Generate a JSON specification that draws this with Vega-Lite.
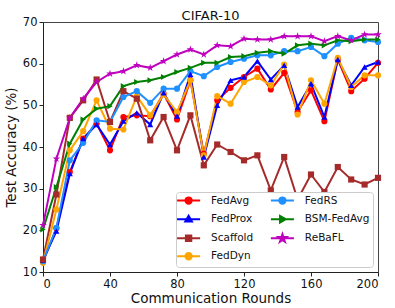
{
  "$schema": "https://vega.github.io/schema/vega-lite/v6.json",
  "width": 335,
  "height": 250,
  "autosize": "none",
  "padding": {"left": 43, "top": 22, "right": 17, "bottom": 36},
  "background": "white",
  "config": {
    "font": "DejaVu Sans",
    "view": {"stroke": "#444", "strokeWidth": 1},
    "axis": {"grid": false, "domainColor": "#222", "tickColor": "#222", "labelColor": "#111", "titleColor": "#111", "labelFontSize": 11.5, "titleFontSize": 13.5, "titleFontWeight": "normal", "tickSize": 4, "labelPadding": 2}
  },
  "title": {"text": "CIFAR-10", "fontSize": 13, "fontWeight": "normal", "color": "#111", "offset": -7},
  "data": {
    "values": [
      {"r": 0, "FedAvg": 12.4, "FedProx": 12.8, "Scaffold": 13.0, "FedDyn": 12.2, "FedRS": 12.6, "BSM-FedAvg": 20.2, "ReBaFL": 21.2},
      {"r": 8, "FedAvg": 20.5, "FedProx": 19.8, "Scaffold": 28.6, "FedDyn": 25.0, "FedRS": 20.6, "BSM-FedAvg": 30.4, "ReBaFL": 37.2},
      {"r": 16, "FedAvg": 34.0, "FedProx": 33.6, "Scaffold": 47.0, "FedDyn": 39.2, "FedRS": 36.8, "BSM-FedAvg": 40.8, "ReBaFL": 47.0},
      {"r": 24, "FedAvg": 42.0, "FedProx": 42.0, "Scaffold": 51.2, "FedDyn": 43.8, "FedRS": 41.0, "BSM-FedAvg": 46.6, "ReBaFL": 51.6},
      {"r": 32, "FedAvg": 45.6, "FedProx": 45.4, "Scaffold": 56.2, "FedDyn": 51.2, "FedRS": 46.4, "BSM-FedAvg": 49.2, "ReBaFL": 55.6},
      {"r": 40, "FedAvg": 39.2, "FedProx": 40.6, "Scaffold": 46.0, "FedDyn": 44.4, "FedRS": 46.0, "BSM-FedAvg": 49.8, "ReBaFL": 57.6},
      {"r": 48, "FedAvg": 47.2, "FedProx": 46.2, "Scaffold": 53.4, "FedDyn": 44.2, "FedRS": 52.0, "BSM-FedAvg": 54.6, "ReBaFL": 58.2},
      {"r": 56, "FedAvg": 47.6, "FedProx": 48.2, "Scaffold": 51.6, "FedDyn": 52.2, "FedRS": 53.4, "BSM-FedAvg": 55.6, "ReBaFL": 59.6},
      {"r": 64, "FedAvg": 47.4, "FedProx": 45.4, "Scaffold": 41.6, "FedDyn": 47.6, "FedRS": 50.6, "BSM-FedAvg": 56.0, "ReBaFL": 59.0},
      {"r": 72, "FedAvg": 52.8, "FedProx": 53.0, "Scaffold": 47.2, "FedDyn": 52.6, "FedRS": 54.0, "BSM-FedAvg": 56.8, "ReBaFL": 60.6},
      {"r": 80, "FedAvg": 46.6, "FedProx": 47.4, "Scaffold": 39.2, "FedDyn": 48.4, "FedRS": 54.0, "BSM-FedAvg": 58.0, "ReBaFL": 62.2},
      {"r": 88, "FedAvg": 56.0, "FedProx": 57.4, "Scaffold": 47.6, "FedDyn": 56.0, "FedRS": 58.2, "BSM-FedAvg": 59.0, "ReBaFL": 63.4},
      {"r": 96, "FedAvg": 38.4, "FedProx": 37.6, "Scaffold": 35.6, "FedDyn": 38.0, "FedRS": 57.0, "BSM-FedAvg": 60.2, "ReBaFL": 62.2},
      {"r": 104, "FedAvg": 51.2, "FedProx": 50.0, "Scaffold": 40.6, "FedDyn": 52.2, "FedRS": 59.2, "BSM-FedAvg": 60.2, "ReBaFL": 64.4},
      {"r": 112, "FedAvg": 54.2, "FedProx": 56.0, "Scaffold": 38.8, "FedDyn": 50.4, "FedRS": 60.4, "BSM-FedAvg": 61.6, "ReBaFL": 64.2},
      {"r": 120, "FedAvg": 56.8, "FedProx": 56.8, "Scaffold": 36.8, "FedDyn": 55.6, "FedRS": 61.2, "BSM-FedAvg": 61.8, "ReBaFL": 66.0},
      {"r": 128, "FedAvg": 58.8, "FedProx": 60.6, "Scaffold": 38.0, "FedDyn": 56.8, "FedRS": 62.0, "BSM-FedAvg": 62.6, "ReBaFL": 65.8},
      {"r": 136, "FedAvg": 53.8, "FedProx": 56.2, "Scaffold": 29.6, "FedDyn": 54.8, "FedRS": 62.0, "BSM-FedAvg": 63.0, "ReBaFL": 65.8},
      {"r": 144, "FedAvg": 57.8, "FedProx": 59.6, "Scaffold": 37.6, "FedDyn": 59.8, "FedRS": 63.0, "BSM-FedAvg": 62.4, "ReBaFL": 66.6},
      {"r": 152, "FedAvg": 48.4, "FedProx": 49.6, "Scaffold": 27.4, "FedDyn": 47.8, "FedRS": 63.0, "BSM-FedAvg": 64.4, "ReBaFL": 66.6},
      {"r": 160, "FedAvg": 53.6, "FedProx": 55.2, "Scaffold": 33.4, "FedDyn": 56.0, "FedRS": 64.0, "BSM-FedAvg": 64.8, "ReBaFL": 66.6},
      {"r": 168, "FedAvg": 46.2, "FedProx": 47.2, "Scaffold": 29.2, "FedDyn": 50.4, "FedRS": 61.8, "BSM-FedAvg": 64.4, "ReBaFL": 65.4},
      {"r": 176, "FedAvg": 61.0, "FedProx": 61.0, "Scaffold": 35.2, "FedDyn": 61.4, "FedRS": 64.8, "BSM-FedAvg": 65.6, "ReBaFL": 66.6},
      {"r": 184, "FedAvg": 53.4, "FedProx": 54.8, "Scaffold": 32.2, "FedDyn": 54.4, "FedRS": 66.2, "BSM-FedAvg": 65.4, "ReBaFL": 65.6},
      {"r": 192, "FedAvg": 56.4, "FedProx": 59.2, "Scaffold": 31.0, "FedDyn": 57.2, "FedRS": 65.6, "BSM-FedAvg": 65.8, "ReBaFL": 67.0},
      {"r": 200, "FedAvg": 60.2, "FedProx": 60.4, "Scaffold": 32.6, "FedDyn": 57.2, "FedRS": 65.2, "BSM-FedAvg": 65.8, "ReBaFL": 67.0}
    ]
  },
  "transform": [
    {"fold": ["FedAvg", "FedProx", "Scaffold", "FedDyn", "FedRS", "BSM-FedAvg", "ReBaFL"], "as": ["method", "acc"]}
  ],
  "encoding": {
    "x": {"field": "r", "type": "quantitative", "scale": {"domain": [0, 200], "nice": false}, "axis": {"values": [0, 40, 80, 120, 160, 200], "title": "Communication Rounds", "titlePadding": 2}},
    "y": {"field": "acc", "type": "quantitative", "scale": {"domain": [10, 70], "nice": false, "zero": false}, "axis": {"values": [10, 20, 30, 40, 50, 60, 70], "title": "Test Accuracy (%)", "titlePadding": 4}},
    "color": {
      "field": "method", "type": "nominal",
      "scale": {
        "domain": ["FedAvg", "FedProx", "Scaffold", "FedDyn", "FedRS", "BSM-FedAvg", "ReBaFL"],
        "range": ["#ff0000", "#0000ff", "#a52a2a", "#ffa500", "#1e90ff", "#008000", "#bf00bf"]
      },
      "legend": {
        "title": null, "orient": "bottom-right", "offset": 5, "columns": 2,
        "labelFontSize": 10.5, "labelColor": "#111", "symbolSize": 40,
        "rowPadding": 3, "columnPadding": 12.8, "labelOffset": 17.2, "symbolOffset": 4.35,
        "padding": 3, "fillColor": "white", "strokeColor": "#ccc", "cornerRadius": 3,
        "encode": {
          "symbols": {
            "update": {
              "shape": {"signal": "datum.value === 'FedProx' ? 'M-3.64,0H3.64M0,-1.1L1.05,0.75L-1.05,0.75Z' : datum.value === 'Scaffold' ? 'M-3.64,0H3.64M-0.85,-0.85H0.85V0.85H-0.85Z' : datum.value === 'BSM-FedAvg' ? 'M-3.64,0H3.64M1.1,0L-0.75,1.05L-0.75,-1.05Z' : datum.value === 'ReBaFL' ? 'M-3.64,0H3.64M0,-1.3L0.294,-0.405L1.236,-0.402L0.476,0.155L0.764,1.052L0,0.5L-0.764,1.052L-0.476,0.155L-1.236,-0.402L-0.294,-0.405Z' : 'M-3.64,0H3.64M1,0A1,1,0,1,1,-1,0A1,1,0,1,1,1,0Z'"},
              "size": {"value": 40},
              "fill": {"scale": "color", "field": "value"},
              "stroke": {"scale": "color", "field": "value"},
              "strokeWidth": {"value": 2},
              "opacity": {"value": 1}
            }
          }
        }
      }
    }
  },
  "layer": [
    {"mark": {"type": "line", "strokeWidth": 2}},
    {
      "transform": [{"filter": {"field": "method", "oneOf": ["FedAvg", "FedDyn", "FedRS"]}}],
      "mark": {"type": "point", "filled": true, "size": 38, "opacity": 1, "shape": "circle"}
    },
    {
      "transform": [{"filter": {"field": "method", "equal": "FedProx"}}],
      "mark": {"type": "point", "filled": true, "size": 38, "opacity": 1, "shape": "triangle-up"}
    },
    {
      "transform": [{"filter": {"field": "method", "equal": "Scaffold"}}],
      "mark": {"type": "point", "filled": true, "size": 38, "opacity": 1, "shape": "square"}
    },
    {
      "transform": [{"filter": {"field": "method", "equal": "BSM-FedAvg"}}],
      "mark": {"type": "point", "filled": true, "size": 38, "opacity": 1, "shape": "triangle-right"}
    },
    {
      "transform": [{"filter": {"field": "method", "equal": "ReBaFL"}}],
      "mark": {"type": "point", "filled": true, "size": 38, "opacity": 1, "shape": "M0,-1.3L0.294,-0.405L1.236,-0.402L0.476,0.155L0.764,1.052L0,0.5L-0.764,1.052L-0.476,0.155L-1.236,-0.402L-0.294,-0.405Z"}
    }
  ]
}
